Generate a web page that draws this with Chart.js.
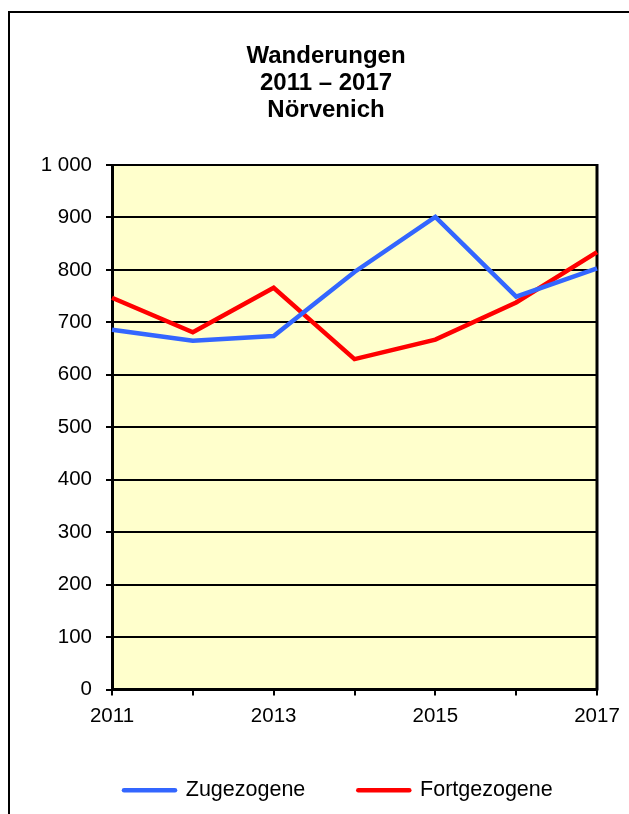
<!DOCTYPE html>
<html>
<head>
<meta charset="utf-8">
<script src="https://cdn.jsdelivr.net/npm/chart.js@4/dist/chart.umd.min.js"></script>
<style>
  html, body { margin: 0; padding: 0; background: #fff; overflow: hidden; }
  #wrap { width: 629px; height: 814px; }
</style>
</head>
<body>
<div id="wrap"><canvas id="lineChart" width="629" height="814"></canvas></div>
<script>
const years = ['2011', '2012', '2013', '2014', '2015', '2016', '2017']
const zugezogene = [686, 665, 674, 796, 901, 749, 803]
const fortgezogene = [747, 681, 766, 630, 667, 738, 834]
const titleLines = ['Wanderungen', '2011 – 2017', 'Nörvenich']
const seriesNames = ['Zugezogene', 'Fortgezogene']

const FONT = '"Liberation Sans", Arial, sans-serif'

// outer frame, yellow plot background, right border of the plot
const decor = {
  id: 'decor',
  beforeDraw(chart) {
    const { ctx, chartArea: a } = chart
    ctx.save()
    ctx.strokeStyle = '#000'
    ctx.lineWidth = 2
    ctx.strokeRect(9, 12, 700, 900)
    ctx.fillStyle = '#FFFFCC'
    ctx.fillRect(a.left, a.top, a.right - a.left, a.bottom - a.top)
    ctx.restore()
  },
  beforeDatasetsDraw(chart) {
    const { ctx, chartArea: a } = chart
    ctx.save()
    ctx.strokeStyle = '#000'
    ctx.lineWidth = 3
    ctx.beginPath()
    ctx.moveTo(a.right, a.top - 1)
    ctx.lineTo(a.right, a.bottom + 1)
    ctx.stroke()
    ctx.restore()
  },
  // title and legend are not centred on the page in the original
  afterLayout(chart) {
    const title = chart.titleBlock
    title.right = title.left + 2 * 326
    const legend = chart.legend
    const pad = legend.options.labels.padding
    legend.right = 2 * 124 - legend.left - pad + legend.lineWidths[0]
  }
}

const ctx = document.getElementById('lineChart').getContext('2d')

new Chart(ctx, {
  type: 'line',
  data: {
    labels: years,
    datasets: [
      {
        label: seriesNames[0],
        data: zugezogene,
        borderColor: '#3366FF',
        backgroundColor: '#3366FF',
        borderWidth: 4.5,
        pointRadius: 0,
        tension: 0
      },
      {
        label: seriesNames[1],
        data: fortgezogene,
        borderColor: '#FF0000',
        backgroundColor: '#FF0000',
        borderWidth: 4.5,
        pointRadius: 0,
        tension: 0
      }
    ]
  },
  options: {
    responsive: false,
    animation: false,
    layout: {
      padding: { left: 0, right: 32, top: 0, bottom: 3 }
    },
    plugins: {
      title: {
        display: true,
        text: titleLines,
        color: '#000',
        font: { family: FONT, size: 24, weight: 'bold', lineHeight: 1.125 },
        padding: { top: 43, bottom: 41 }
      },
      legend: {
        position: 'bottom',
        labels: {
          color: '#000',
          font: { family: FONT, size: 21.5 },
          usePointStyle: true,
          pointStyle: 'line',
          pointStyleWidth: 51,
          padding: 53,
          generateLabels(chart) {
            const items = Chart.defaults.plugins.legend.labels.generateLabels(chart)
            items.forEach(item => { item.lineCap = 'round' })
            return items
          }
        }
      },
      tooltip: { enabled: false }
    },
    scales: {
      x: {
        afterFit(scale) { scale.height = 37 },
        grid: {
          drawOnChartArea: false,
          color: '#000',
          lineWidth: 2,
          tickLength: 6
        },
        border: { color: '#000', width: 3 },
        ticks: {
          color: '#000',
          font: { family: FONT, size: 20.5 },
          padding: 9,
          autoSkip: false,
          maxRotation: 0,
          callback(value, index) {
            return index % 2 === 0 ? this.getLabelForValue(value) : ''
          }
        }
      },
      y: {
        min: 0,
        max: 1000,
        afterFit(scale) { scale.width = 112 },
        grid: {
          color: '#000',
          lineWidth: 2,
          tickLength: 6
        },
        border: { color: '#000', width: 3 },
        ticks: {
          stepSize: 100,
          color: '#000',
          font: { family: FONT, size: 20.5 },
          padding: 14,
          callback(value) {
            return String(value).replace(/\B(?=(\d{3})+(?!\d))/g, ' ')
          }
        }
      }
    }
  },
  plugins: [decor]
})
</script>
</body>
</html>
